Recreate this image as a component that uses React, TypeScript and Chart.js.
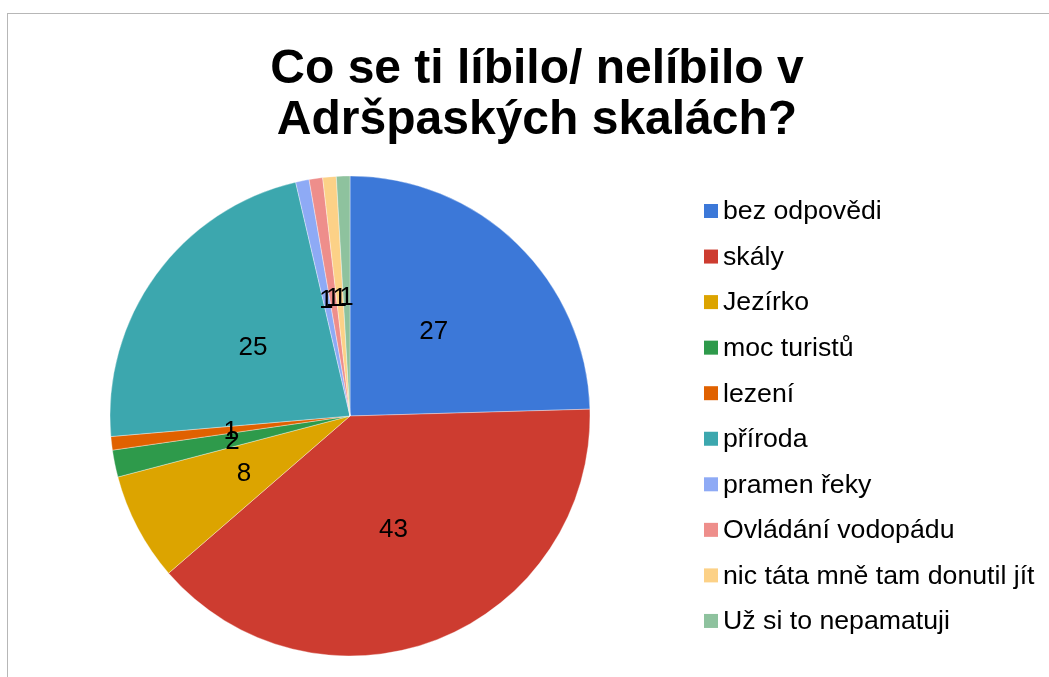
import React, { useEffect, useRef } from "react";
import { Chart, registerables } from "chart.js";

Chart.register(...registerables);

const TITLE_LINES = ["Co se ti líbilo/ nelíbilo v", "Adršpaských skalách?"];
const CATEGORIES = [
  "bez odpovědi",
  "skály",
  "Jezírko",
  "moc turistů",
  "lezení",
  "příroda",
  "pramen řeky",
  "Ovládání vodopádu",
  "nic táta mně tam donutil jít",
  "Už si to nepamatuji",
];
const VALUES = [27, 43, 8, 2, 1, 25, 1, 1, 1, 1];
const COLORS = [
  "#3c78d8",
  "#cd3c30",
  "#dca400",
  "#2e9a4b",
  "#e06100",
  "#3ca7ae",
  "#8eaaf5",
  "#ee8e8b",
  "#fcd187",
  "#8ec29e",
];

const FONT = "'Liberation Sans', Arial, sans-serif";

const decorPlugin = {
  id: "decor",
  beforeDraw(chart: any) {
    const ctx = chart.ctx;
    ctx.save();
    ctx.fillStyle = "#ffffff";
    ctx.fillRect(0, 0, chart.width, chart.height);
    ctx.fillStyle = "#b7b7b7";
    ctx.fillRect(7, 13, chart.width - 7, 1);
    ctx.fillRect(7, 13, 1, chart.height - 13);
    ctx.restore();
  },
  afterDraw(chart: any) {
    const ctx = chart.ctx;
    ctx.save();
    // title
    ctx.fillStyle = "#000000";
    ctx.font = `bold 48px ${FONT}`;
    ctx.textAlign = "center";
    ctx.textBaseline = "alphabetic";
    TITLE_LINES.forEach((line, i) => {
      ctx.fillText(line, 537, 83 + i * 51);
    });
    // data labels
    const meta = chart.getDatasetMeta(0);
    const values = chart.data.datasets[0].data;
    ctx.font = `26px ${FONT}`;
    ctx.textAlign = "center";
    ctx.textBaseline = "middle";
    meta.data.forEach((arc: any, i: number) => {
      const p = arc.tooltipPosition();
      ctx.fillText(String(values[i]), p.x, p.y + 2);
    });
    // legend
    const labels = chart.data.labels;
    const colors = chart.data.datasets[0].backgroundColor;
    ctx.textAlign = "left";
    ctx.font = `26.7px ${FONT}`;
    labels.forEach((lab: string, i: number) => {
      const cy = 211 + i * 45.55;
      ctx.fillStyle = colors[i];
      ctx.fillRect(704, cy - 7, 14, 14);
      ctx.fillStyle = "#000000";
      ctx.fillText(lab, 723, cy + 1);
    });
    ctx.restore();
  },
};

export default function App() {
  const ref = useRef<HTMLCanvasElement | null>(null);
  useEffect(() => {
    if (!ref.current) return;
    const chart = new Chart(ref.current, {
      type: "pie",
      data: {
        labels: CATEGORIES,
        datasets: [
          {
            data: VALUES,
            backgroundColor: COLORS,
            borderColor: "rgba(255,255,255,0.6)",
            borderWidth: 0.6,
          },
        ],
      },
      options: {
        responsive: false,
        animation: false,
        radius: 240,
        layout: { padding: { left: 110, right: 459, top: 176, bottom: 21 } },
        plugins: {
          legend: { display: false },
          title: { display: false },
          tooltip: { enabled: false },
        },
      } as any,
      plugins: [decorPlugin],
    });
    return () => chart.destroy();
  }, []);
  return (
    <div style={{ position: "fixed", left: 0, top: 0, width: 1049, height: 677, background: "#fff" }}>
      <canvas ref={ref} width={1049} height={677} style={{ display: "block" }} />
    </div>
  );
}
